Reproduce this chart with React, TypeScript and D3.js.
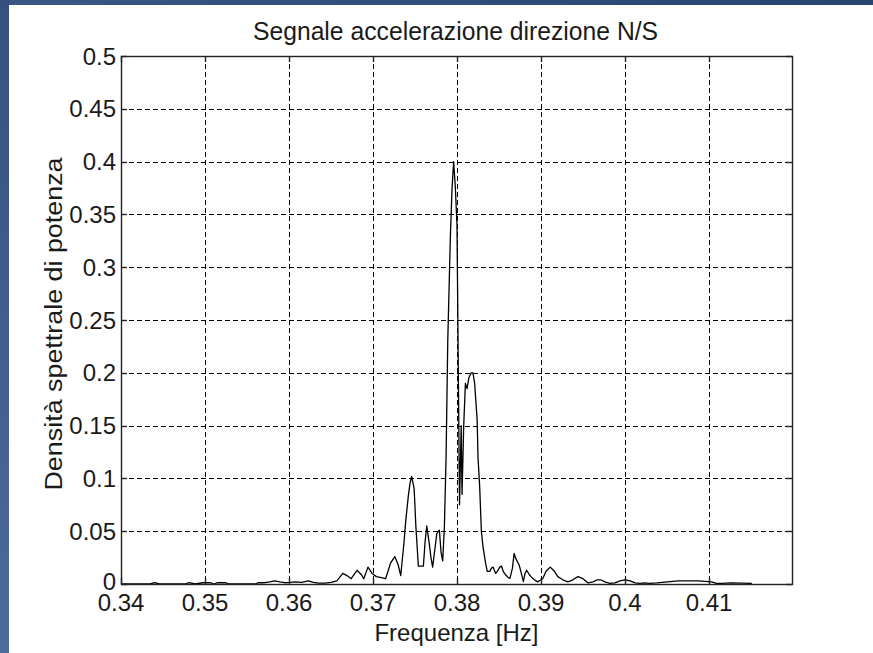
import React, { useEffect, useRef } from "react";
import * as d3 from "d3";

const freq = [
  0.3400, 0.34345, 0.3440, 0.3446, 0.3476, 0.3481, 0.3488, 0.3498, 0.3506, 0.3511,
  0.3515, 0.3524, 0.3529, 0.3560, 0.3563, 0.3571, 0.3577, 0.3583, 0.3589, 0.3595,
  0.3601, 0.3608, 0.3615, 0.3623, 0.3629, 0.3635, 0.3643, 0.3650, 0.3657, 0.3664,
  0.3669, 0.3674, 0.3681, 0.3686, 0.3689, 0.3694, 0.3699, 0.3704, 0.3710, 0.3715,
  0.3721, 0.3726, 0.3730, 0.3733, 0.3737, 0.3739, 0.3742, 0.3744, 0.3746, 0.3749,
  0.3751, 0.3754, 0.3757, 0.3760, 0.3762, 0.3764, 0.3767, 0.3769, 0.3771, 0.3774,
  0.3776, 0.3779, 0.3781, 0.3783, 0.3785, 0.3787, 0.3789, 0.3792, 0.3794, 0.3796,
  0.3798, 0.3800, 0.3801, 0.3803, 0.3805, 0.3806, 0.3808, 0.3810, 0.3812, 0.3814,
  0.3817, 0.3819, 0.3821, 0.3824, 0.3825, 0.3827, 0.3829, 0.3831, 0.3834, 0.3836,
  0.3839, 0.3841, 0.3843, 0.3846, 0.3848, 0.3851, 0.3853, 0.3855, 0.3858, 0.3861,
  0.3863, 0.3866, 0.3868, 0.3870, 0.3874, 0.3876, 0.3879, 0.3881, 0.3883, 0.3886,
  0.3888, 0.3892, 0.3896, 0.3900, 0.3902, 0.3906, 0.3911, 0.3916, 0.3920, 0.3926,
  0.3932, 0.3938, 0.3944, 0.3950, 0.3956, 0.3962, 0.3967, 0.3971, 0.3976, 0.3982,
  0.3988, 0.3994, 0.4000, 0.4006, 0.4012, 0.4018, 0.4023, 0.4029, 0.4038, 0.4063,
  0.4087, 0.4103, 0.4109, 0.4115, 0.4126, 0.4151
];

const psd = [
  0, 0, 0.0012, 0, 0, 0.0012, 0, 0.0012, 0.0012, 0,
  0.0012, 0.0012, 0, 0, 0.0012, 0.0012, 0.002, 0.003, 0.002, 0.0012,
  0.0015, 0.002, 0.0015, 0.003, 0.0015, 0.0008, 0.0008, 0.0015, 0.003, 0.010,
  0.008, 0.005, 0.013, 0.009, 0.005, 0.016, 0.010, 0.007, 0.006, 0.005,
  0.020, 0.026, 0.018, 0.008, 0.040, 0.060, 0.083, 0.095, 0.102, 0.090,
  0.055, 0.017, 0.017, 0.017, 0.040, 0.055, 0.038, 0.025, 0.016, 0.035,
  0.048, 0.051, 0.030, 0.022, 0.055, 0.120, 0.230, 0.326, 0.373, 0.400,
  0.376, 0.340, 0.250, 0.075, 0.150, 0.085, 0.150, 0.190, 0.185, 0.195,
  0.200, 0.200, 0.190, 0.155, 0.120, 0.092, 0.050, 0.035, 0.020, 0.012,
  0.012, 0.015, 0.016, 0.010, 0.012, 0.016, 0.017, 0.012, 0.0085, 0.006,
  0.0054, 0.015, 0.029, 0.024, 0.018, 0.012, 0.0022, 0.010, 0.013, 0.009,
  0.007, 0.004, 0.002, 0.004, 0.005, 0.012, 0.016, 0.012, 0.007, 0.004,
  0.002, 0.004, 0.007, 0.005, 0.001, 0.002, 0.004, 0.004, 0.002, 0.0005,
  0.001, 0.003, 0.004, 0.003, 0.001, 0.0005, 0.001, 0.0005, 0.001, 0.003,
  0.003, 0.002, 0.0005, 0.0005, 0.001, 0.0005
];

const xTicks = [0.34, 0.35, 0.36, 0.37, 0.38, 0.39, 0.4, 0.41];
const yTicks = [0, 0.05, 0.1, 0.15, 0.2, 0.25, 0.3, 0.35, 0.4, 0.45, 0.5];
const xDomain = [0.34, 0.41988];
const yDomain = [0, 0.5];
const title = "Segnale accelerazione direzione N/S";
const xLabel = "Frequenza [Hz]";
const yLabel = "Densità spettrale di potenza";

const W = 873;
const H = 653;
const M = { left: 121, right: 792, top: 56, bottom: 584 };
const FONT = "'Liberation Sans', Arial, Helvetica, sans-serif";

export default function App() {
  const ref = useRef<SVGSVGElement>(null);

  useEffect(() => {
    const svg = d3.select(ref.current);
    svg.selectAll("*").remove();

    const defs = svg.append("defs");
    const gl = defs.append("linearGradient").attr("id", "leftbg").attr("x1", 0).attr("y1", 0).attr("x2", 0).attr("y2", 1);
    gl.append("stop").attr("offset", "0%").attr("stop-color", "#35527f");
    gl.append("stop").attr("offset", "100%").attr("stop-color", "#4b6b9d");
    const gt = defs.append("linearGradient").attr("id", "topbg").attr("x1", 0).attr("y1", 0).attr("x2", 1).attr("y2", 0);
    gt.append("stop").attr("offset", "0%").attr("stop-color", "#3a5886");
    gt.append("stop").attr("offset", "30%").attr("stop-color", "#34507c");
    gt.append("stop").attr("offset", "100%").attr("stop-color", "#2a4470");

    svg.append("rect").attr("x", 0).attr("y", 0).attr("width", W).attr("height", H).attr("fill", "#ffffff");
    svg.append("rect").attr("x", 0).attr("y", 0).attr("width", W).attr("height", 5).attr("fill", "url(#topbg)");
    svg.append("rect").attr("x", 0).attr("y", 0).attr("width", 9).attr("height", H).attr("fill", "url(#leftbg)");

    const x = d3.scaleLinear().domain(xDomain).range([M.left, M.right]);
    const y = d3.scaleLinear().domain(yDomain).range([M.bottom, M.top]);

    const grid = svg.append("g").attr("stroke", "#000").attr("stroke-width", 1).attr("stroke-dasharray", "5,3").attr("fill", "none");
    xTicks.slice(1).forEach((t) => {
      grid.append("line").attr("x1", Math.round(x(t)) + 0.5).attr("x2", Math.round(x(t)) + 0.5).attr("y1", M.top).attr("y2", M.bottom);
    });
    yTicks.slice(1, -1).forEach((t) => {
      grid.append("line").attr("y1", Math.round(y(t)) + 0.5).attr("y2", Math.round(y(t)) + 0.5).attr("x1", M.left).attr("x2", M.right);
    });

    const line = d3.line<number>().x((_, i) => x(freq[i])).y((d) => y(d));
    svg.append("path").datum(psd).attr("d", line).attr("fill", "none").attr("stroke", "#000").attr("stroke-width", 1.3).attr("stroke-linejoin", "round");

    const ax = svg.append("g").attr("stroke", "#222").attr("stroke-width", 1.4).attr("fill", "none");
    ax.append("rect").attr("x", M.left + 0.5).attr("y", M.top + 0.5).attr("width", M.right - M.left).attr("height", M.bottom - M.top);
    const tl = 6;
    xTicks.forEach((t) => {
      const px = Math.round(x(t)) + 0.5;
      ax.append("line").attr("x1", px).attr("x2", px).attr("y1", M.bottom).attr("y2", M.bottom - tl);
      ax.append("line").attr("x1", px).attr("x2", px).attr("y1", M.top).attr("y2", M.top + tl);
    });
    yTicks.forEach((t) => {
      const py = Math.round(y(t)) + 0.5;
      ax.append("line").attr("x1", M.left).attr("x2", M.left + tl).attr("y1", py).attr("y2", py);
      ax.append("line").attr("x1", M.right).attr("x2", M.right - tl).attr("y1", py).attr("y2", py);
    });

    const txt = svg.append("g").attr("font-family", FONT).attr("font-size", 24).attr("fill", "#1a1a1a");
    yTicks.forEach((t) => {
      const cy = t === 0 ? y(t) - 3 : y(t);
      txt.append("text").attr("x", 116).attr("y", cy).attr("dy", "0.36em").attr("text-anchor", "end").text(String(t));
    });
    xTicks.forEach((t) => {
      txt.append("text").attr("x", x(t)).attr("y", 611).attr("text-anchor", "middle").text(String(t));
    });
    txt.append("text").attr("x", (M.left + M.right) / 2).attr("y", 641).attr("text-anchor", "middle").text(xLabel);
    txt.append("text")
      .attr("transform", `translate(${(M.left + M.right) / 2 - 1}, 40) scale(1.03, 1.08)`)
      .attr("text-anchor", "middle").text(title);
    txt.append("text")
      .attr("transform", `translate(62, ${(M.top + M.bottom) / 2 + 4}) rotate(-90) scale(1.12, 1)`)
      .attr("text-anchor", "middle").text(yLabel);
  }, []);

  return (
    <svg ref={ref} width={W} height={H} style={{ position: "fixed", left: 0, top: 0, display: "block" }} />
  );
}
